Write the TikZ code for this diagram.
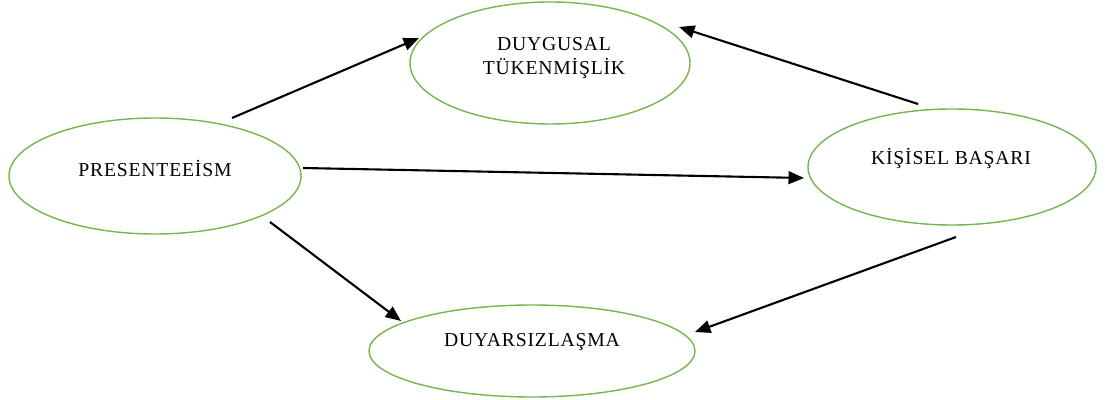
\documentclass[tikz,border=0pt]{standalone}
\usepackage{fontspec}
\setmainfont[LetterSpace=4]{Liberation Serif}
\usetikzlibrary{shapes.geometric,arrows.meta}
\definecolor{ellgreen}{RGB}{120,180,80}
\tikzset{
  oval/.style={draw=ellgreen, line width=1pt, ellipse, inner sep=0pt},
  lbl/.style={font=\fontsize{14}{17.5}\selectfont, align=center, inner sep=0pt},
  conn/.style={line width=1.5pt, -{Triangle[length=11pt,width=9pt]}}
}
\begin{document}
\begin{tikzpicture}[x=0.025cm,y=-0.025cm]
\useasboundingbox (0,0) rectangle (1109,400);
% ellipses
\node[oval, minimum width=280*0.025cm, minimum height=122*0.025cm] (dt) at (550,63) {};
\node[oval, minimum width=292*0.025cm, minimum height=116*0.025cm] (pr) at (155,176) {};
\node[oval, minimum width=288*0.025cm, minimum height=116*0.025cm] (kb) at (952,167) {};
\node[oval, minimum width=326*0.025cm, minimum height=92*0.025cm] (dy) at (532,351) {};
% labels
\node[lbl] (dtl) at (554,58) {DUYGUSAL\\TÜKENMİŞLİK};
\node[lbl] (prl) at (155,168) {PRESENTEEİSM};
\node[lbl] (kbl) at (951,158) {KİŞİSEL BAŞARI};
\node[lbl] (dyl) at (532,342) {DUYARSIZLAŞMA};
% connector ends
\coordinate (a1) at (232,118); \coordinate (a2) at (419,38);
\coordinate (b1) at (918,104); \coordinate (b2) at (679,27);
\coordinate (c1) at (303,168); \coordinate (c2) at (804,178);
\coordinate (d1) at (270,222); \coordinate (d2) at (401,321);
\coordinate (e1) at (956,237); \coordinate (e2) at (695,332);
\draw[conn] (a1) -- (a2);
\draw[conn] (b1) -- (b2);
\draw[conn] (c1) -- (c2);
\draw[conn] (d1) -- (d2);
\draw[conn] (e1) -- (e2);
\end{tikzpicture}
\end{document}
